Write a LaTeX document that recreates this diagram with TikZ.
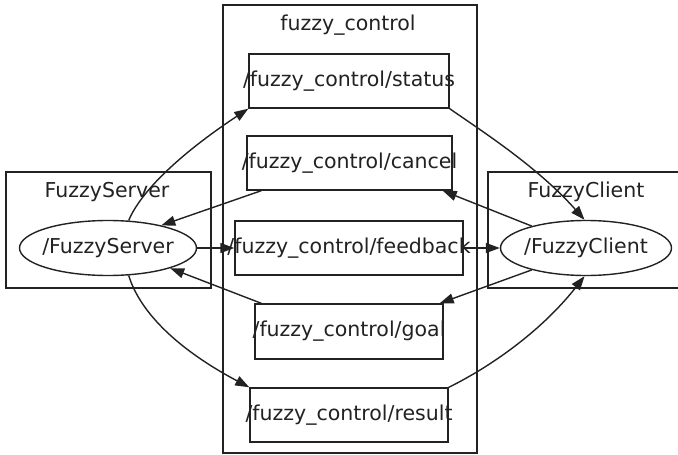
\documentclass[tikz,border=0pt]{standalone}
\usepackage{fontspec}
\setmainfont{DejaVu Sans}
\usetikzlibrary{arrows.meta,calc,shapes.geometric}
\definecolor{ln}{HTML}{222222}
\begin{document}
\begin{tikzpicture}[x=1pt,y=-1pt,
  every node/.style={font=\fontsize{20.5}{24}\selectfont, text=ln},
  topic/.style={draw=ln, line width=1.4pt, rectangle, inner sep=0pt},
  lbl/.style={inner sep=0pt},
  proc/.style={draw=ln, line width=1.4pt, ellipse, inner sep=0pt, minimum width=177pt, minimum height=55pt},
  clus/.style={draw=ln, line width=1.4pt},
  edge/.style={draw=ln, line width=1.4pt, -{Triangle[length=14pt,width=10pt]}}]
\useasboundingbox (0,0) rectangle (678,455);
\fill[white] (0,0) rectangle (678,455);
% clusters
\draw[clus] (223,5) rectangle (477,453);
\node[lbl] (tfc) at (348,25) {fuzzy\_control};
\draw[clus] (6,172) rectangle (211,288);
\node[lbl] (tfs) at (107,192) {FuzzyServer};
\draw[clus] (678,172) -| (488,288) -- (678,288);
\node[lbl] (tfcl) at (586,192) {FuzzyClient};
% topics
\node[topic, minimum width=200pt, minimum height=54pt, label={[lbl]center:/fuzzy\_control/status}] (status) at (349,81) {};
\node[topic, minimum width=205pt, minimum height=54pt, label={[lbl]center:/fuzzy\_control/cancel}] (cancel) at (349.5,163) {};
\node[topic, minimum width=228pt, minimum height=54pt, label={[lbl]center:/fuzzy\_control/feedback}] (feedback) at (349,248) {};
\node[topic, minimum width=188pt, minimum height=55pt, label={[lbl]center:/fuzzy\_control/goal}] (goal) at (349,331.5) {};
\node[topic, minimum width=198pt, minimum height=54pt, label={[lbl]center:/fuzzy\_control/result}] (result) at (349,415) {};
% processes
\node[proc, label={[lbl]center:/FuzzyServer}] (server) at (108,248) {};
\node[proc, minimum width=171pt, label={[lbl]center:/FuzzyClient}] (client) at (586,248) {};
% edges
\draw[edge] (server.53) .. controls +(12,-29) and +(-68,45) .. (status.south west);
\draw[edge] (status.south east) .. controls +(33,23) and +(-47,-53) .. (client.93);
\draw[edge] (client.158) -- ($(cancel.south east)+(-10,0)$);
\draw[edge] ($(cancel.south west)+(15,0)$) -- (server.23);
\draw[edge] (server.east) -- (feedback.west);
\draw[edge] (feedback.east) -- (client.west);
\draw[edge] (client.202) -- ($(goal.north east)+(-4,0)$);
\draw[edge] ($(goal.north west)+(7,0)$) -- (server.-18);
\draw[edge] (server.-53) .. controls +(12,39) and +(-68,-36) .. (result.north west);
\draw[edge] (result.north east) .. controls +(33,-16) and +(-47,60) .. (client.-93);
\end{tikzpicture}
\end{document}
